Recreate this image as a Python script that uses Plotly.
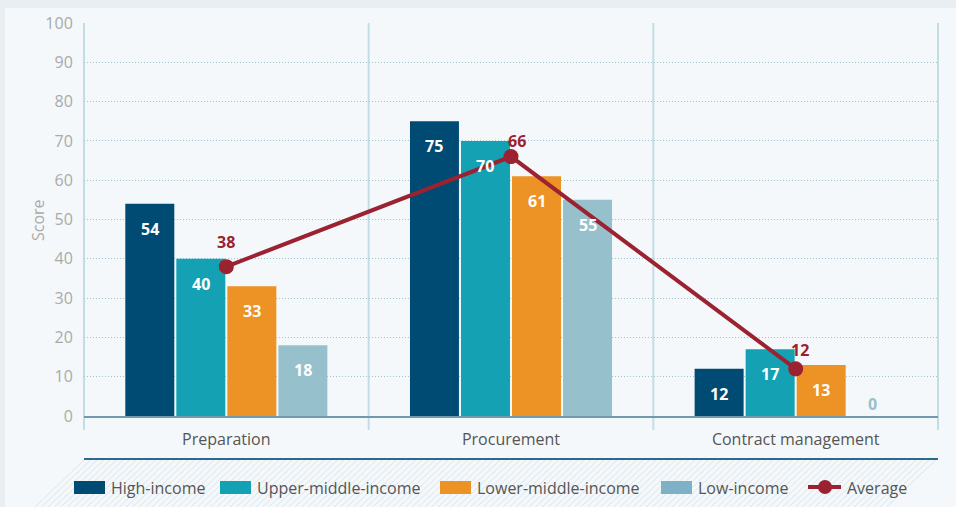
import plotly.graph_objects as go

# ---------------- data ----------------
categories = ["Preparation", "Procurement", "Contract management"]
series_names = ["High-income", "Upper-middle-income", "Lower-middle-income", "Low-income"]
high_income = [54, 75, 12]
upper_middle_income = [40, 70, 17]
lower_middle_income = [33, 61, 13]
low_income = [18, 55, 0]
average = [38, 66, 12]
y_ticks = [0, 10, 20, 30, 40, 50, 60, 70, 80, 90, 100]

series_values = [high_income, upper_middle_income, lower_middle_income, low_income]
series_colors = ["#004b73", "#13a1b3", "#ed9225", "#97c0cd"]
legend_colors = ["#004b73", "#13a1b3", "#ed9225", "#7fb1c6"]
avg_color = "#9b2230"
FONT = "Open Sans"

# ---------------- layout geometry ----------------
W, H = 956, 507
PL, PR, PT, PB = 84, 938, 23, 416   # plot area in pixels
BARGAP, BARGROUPGAP = 0.283, 0.04


def X(px):
    return (px - PL) / (PR - PL)


def Y(py):
    return (PB - py) / (PB - PT)


fig = go.Figure()

for name, vals, col in zip(series_names, series_values, series_colors):
    fig.add_trace(go.Bar(x=categories, y=vals, name=name, marker=dict(color=col, line=dict(width=0)),
                         showlegend=False, hoverinfo="x+y+name"))

fig.add_trace(go.Scatter(x=categories, y=average, name="Average", mode="lines+markers",
                         line=dict(color=avg_color, width=4),
                         marker=dict(color=avg_color, size=15), showlegend=False))

annotations = []
# bar value labels
cat_px = (PR - PL) / len(categories)
slot = cat_px * (1 - BARGAP) / len(series_names)
for i, (vals, col) in enumerate(zip(series_values, series_colors)):
    off = (i - (len(series_names) - 1) / 2) * slot
    for c, v in zip(categories, vals):
        if v > 0:
            annotations.append(dict(x=c, y=v, xshift=off, yshift=-25, yanchor="middle",
                                    text=str(v), showarrow=False,
                                    font=dict(family=FONT, size=16, color="white", weight="bold")))
        else:
            annotations.append(dict(x=c, y=v, xshift=off, yshift=12, yanchor="middle",
                                    text=str(v), showarrow=False,
                                    font=dict(family=FONT, size=16, color=col, weight="bold")))

# average labels
avg_label_shift = [(0, 25), (6, 16), (4, 19)]
for c, v, (dx, dy) in zip(categories, average, avg_label_shift):
    annotations.append(dict(x=c, y=v, xshift=dx, yshift=dy, yanchor="middle",
                            text=str(v), showarrow=False,
                            font=dict(family=FONT, size=16, color=avg_color, weight="bold")))

# y axis title
annotations.append(dict(xref="paper", yref="paper", x=X(38), y=Y(220), xanchor="center", yanchor="middle",
                        text="Score", textangle=-90,
                        showarrow=False, font=dict(family=FONT, size=16, color="#aaaaaa")))

shapes = []
# panel background
shapes.append(dict(type="rect", xref="paper", yref="paper", x0=X(5), x1=X(960), y0=Y(512), y1=Y(8),
                   fillcolor="#f4f8fa", line=dict(width=0), layer="below"))
# hatching
path = ""
xb = 35
while xb < 892:
    path += f"M{X(xb)},{Y(507)}L{X(xb + 49)},{Y(460)}"
    xb += 6.5
shapes.append(dict(type="path", xref="paper", yref="paper", path=path,
                   line=dict(color="#dbe5eb", width=1), layer="below"))
# dark rule above legend
shapes.append(dict(type="line", xref="paper", yref="paper", x0=0, x1=1, y0=Y(459), y1=Y(459),
                   line=dict(color="#2b6a8f", width=2)))
# vertical separators
for k in range(len(categories) + 1):
    xp = k / len(categories)
    shapes.append(dict(type="line", xref="paper", yref="paper", x0=xp, x1=xp, y0=Y(430), y1=1,
                       line=dict(color="#c4dce5", width=2), layer="below"))

# custom legend
leg_swatches = [74, 220, 440, 661]
for name, col, sx in zip(series_names, legend_colors, leg_swatches):
    shapes.append(dict(type="rect", xref="paper", yref="paper", x0=X(sx), x1=X(sx + 31),
                       y0=Y(494), y1=Y(481), fillcolor=col, line=dict(width=0)))
    annotations.append(dict(xref="paper", yref="paper", x=X(sx + 35), y=Y(487.5), xanchor="left",
                            yanchor="middle", text=name, showarrow=False,
                            font=dict(family=FONT, size=16, color="#555555")))
shapes.append(dict(type="line", xref="paper", yref="paper", x0=X(808), x1=X(841), y0=Y(487), y1=Y(487),
                   line=dict(color=avg_color, width=4)))
shapes.append(dict(type="circle", xref="paper", yref="paper", x0=X(818), x1=X(832), y0=Y(494), y1=Y(480),
                   fillcolor=avg_color, line=dict(width=0)))
annotations.append(dict(xref="paper", yref="paper", x=X(845), y=Y(487.5), xanchor="left",
                        yanchor="middle", text="Average", showarrow=False,
                        font=dict(family=FONT, size=16, color="#555555")))

fig.update_layout(
    width=W, height=H,
    margin=dict(l=PL, r=W - PR, t=PT, b=H - PB, autoexpand=False),
    paper_bgcolor="#e8eef2", plot_bgcolor="rgba(0,0,0,0)",
    barmode="group", bargap=BARGAP, bargroupgap=BARGROUPGAP,
    font=dict(family=FONT, color="#555555"),
    showlegend=False,
    shapes=shapes, annotations=annotations,
    xaxis=dict(showgrid=False, showline=True, linecolor="#7199ad", linewidth=2,
               ticks="outside", ticklen=8, tickcolor="rgba(0,0,0,0)",
               tickfont=dict(family=FONT, size=16, color="#555555"), fixedrange=True),
    yaxis=dict(range=[0, 100], tickvals=y_ticks, showgrid=True, gridcolor="#9fc5d3", griddash="1px,2px",
               gridwidth=1, zeroline=False, showline=False,
               ticks="outside", ticklen=7, tickcolor="rgba(0,0,0,0)",
               tickfont=dict(family=FONT, size=16, color="#aaaaaa"), fixedrange=True),
)

fig.write_html("out.html", config={"displayModeBar": False},
               post_script="document.body.style.margin='0';document.body.style.overflow='hidden';document.body.style.background='#e8eef2';")
